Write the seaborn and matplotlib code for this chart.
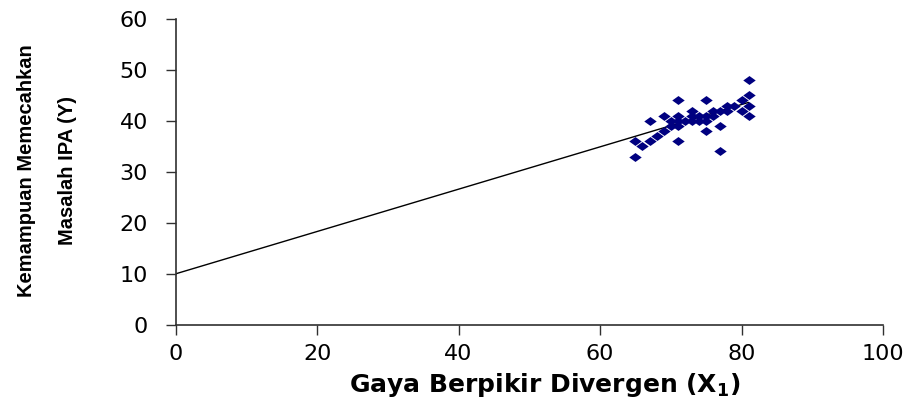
import matplotlib
matplotlib.use("Agg")
import matplotlib.pyplot as plt
import seaborn as sns
import numpy as np
import pandas as pd

# Divergent thinking score (X1) and science problem-solving ability (Y)
x1_scores = [65, 65, 66, 67, 67, 68, 69, 69, 70, 70, 71, 71, 71, 71, 71, 72, 73, 73, 73,
             74, 74, 75, 75, 75, 75, 76, 76, 77, 77, 77, 78, 78, 79, 80, 80, 81, 81, 81, 81]
y_scores = [33, 36, 35, 36, 40, 37, 38, 41, 40, 39, 44, 41, 39, 40, 36, 40, 42, 40, 41,
            41, 40, 44, 40, 38, 41, 42, 41, 42, 39, 34, 42, 43, 43, 44, 42, 48, 45, 41, 43]

# Linear trend Y = a + b * X1
trend_intercept = 10.0
trend_slope = 0.415

x_ticks = [0, 20, 40, 60, 80, 100]
y_ticks = [0, 10, 20, 30, 40, 50, 60]

df = pd.DataFrame({"x": x1_scores, "y": y_scores})
trend_x = np.array([0, max(x1_scores)])
trend = pd.DataFrame({"x": trend_x, "y": trend_intercept + trend_slope * trend_x})

sns.set_style("white")
plt.rcParams["font.family"] = ["DejaVu Sans"]
plt.rcParams["text.color"] = "black"
plt.rcParams["axes.labelcolor"] = "black"

fig = plt.figure(figsize=(9.15, 4.01), dpi=100)
ax = fig.add_axes([0.192, 0.190, 0.773, 0.763])

# wide diamond marker
diamond = [(-1, 0), (0, 0.72), (1, 0), (0, -0.72), (-1, 0)]
sns.scatterplot(data=df, x="x", y="y", ax=ax, marker=diamond, s=80,
                color="#000080", linewidth=0, zorder=3)
sns.lineplot(data=trend, x="x", y="y", ax=ax, color="black", linewidth=1.0, zorder=2)

ax.set_xlim(0, 100)
ax.set_ylim(0, 60)
ax.set_xticks(x_ticks)
ax.set_yticks(y_ticks)
ax.tick_params(axis="both", direction="out", length=7, width=1, color="#303030",
               labelsize=16, labelcolor="black", left=True, bottom=True)
ax.tick_params(axis="y", pad=13)
ax.tick_params(axis="x", pad=7)

for side in ["top", "right"]:
    ax.spines[side].set_visible(False)
for side in ["left", "bottom"]:
    ax.spines[side].set_color("#303030")
    ax.spines[side].set_linewidth(1.2)

ax.set_xlabel(r"Gaya Berpikir Divergen (X$_\mathregular{1}$)", fontsize=18,
              fontweight="bold", family=["DejaVu Sans"])
ax.xaxis.set_label_coords(0.522, -0.196)
ax.xaxis.label.set_va("center")

ax.set_ylabel("Kemampuan Memecahkan\nMasalah IPA (Y)", fontsize=14.5, fontweight="bold",
              family=["Liberation Sans"], linespacing=2.45)
ax.yaxis.set_label_coords(-0.182, 0.503)
ax.yaxis.label.set_va("center")
ax.yaxis.label.set_ha("center")

fig.savefig("out.png", dpi=100)
